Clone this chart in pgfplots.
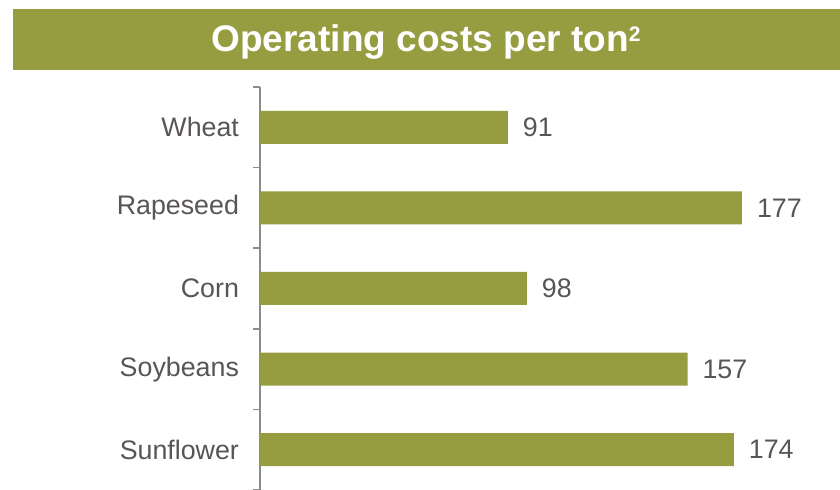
\documentclass[border=0pt]{standalone}
\usepackage{pgfplots}
\pgfplotsset{compat=1.18}
\usepackage{fontspec}
\setmainfont{Liberation Sans}
\definecolor{olive}{HTML}{969D41}
\definecolor{txtgray}{HTML}{595555}
\definecolor{axgray}{HTML}{8C8C8C}
\begin{document}
\begin{tikzpicture}
\useasboundingbox (0,0) rectangle (420pt,245pt);
\fill[olive] (6.5pt,210pt) rectangle (420pt,240.5pt);
\node[text=white, font=\fontsize{18.5}{20}\selectfont\bfseries, anchor=base] at (213pt,219.3pt) {Operating costs per ton\raisebox{5pt}{\fontsize{10.5}{11}\selectfont 2}};
\begin{axis}[
  at={(130pt,0pt)}, anchor=south west,
  scale only axis, width=290pt, height=201.5pt,
  xbar, bar width=16.5pt,
  xmin=0, xmax=213,
  ymin=-0.5, ymax=4.5, y dir=reverse,
  axis x line=none,
  axis y line*=left,
  y axis line style={axgray, line width=0.75pt},
  ytick={0,1,2,3,4},
  yticklabels={Wheat,Rapeseed,Corn,Soybeans,Sunflower},
  major tick length=0pt,
  yticklabel style={font=\fontsize{13.4}{15}\selectfont, text=txtgray, xshift=-7pt},
  extra y ticks={-0.5,0.5,1.5,2.5,3.5,4.5},
  extra y tick labels={},
  extra y tick style={major tick length=3.5pt, tick align=outside, tick style={axgray, line width=0.75pt}},
  /pgf/number format/assume math mode=true,
  nodes near coords,
  every node near coord/.append style={font=\fontsize{13.4}{15}\selectfont, text=txtgray, anchor=west, xshift=4pt},
  clip=false,
]
\addplot[fill=olive, draw=none] coordinates {(91,0) (177,1) (98,2) (157,3) (174,4)};
\end{axis}
\end{tikzpicture}
\end{document}
